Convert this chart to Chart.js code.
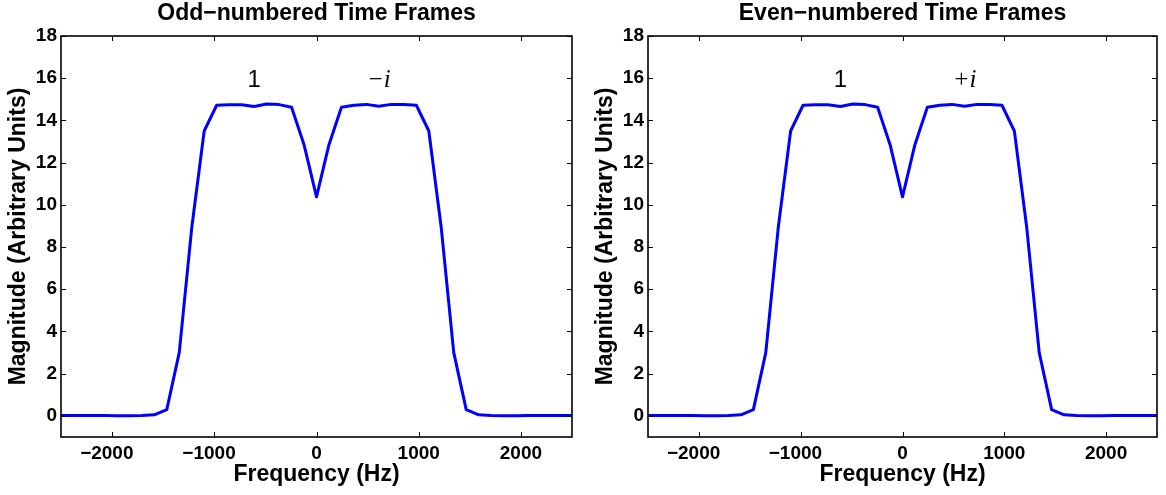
<!DOCTYPE html>
<html><head><meta charset="utf-8">
<script src="https://cdn.jsdelivr.net/npm/chart.js@4.4.0/dist/chart.umd.min.js"></script>
<style>
html,body{margin:0;padding:0;background:#fff;}
#wrap{position:relative;width:1166px;height:495px;background:#fff;}
.c{position:absolute;top:0;width:583px;height:495px;}
</style></head><body>
<div id="wrap">
<div class="c" style="left:0"><canvas id="c1" width="583" height="495"></canvas></div>
<div class="c" style="left:583px"><canvas id="c2" width="583" height="495"></canvas></div>
</div>
<script>
// Frequency bins (Hz)
const frequencies = [-2563,-2441,-2319,-2197,-2075,-1953,-1831,-1709,-1587,-1465,-1343,-1221,-1099,-977,-854,-732,-610,-488,-366,-244,-122,0,122,244,366,488,610,732,854,977,1099,1221,1343,1465,1587,1709,1831,1953,2075,2197,2319,2441,2563];
// Magnitudes (arbitrary units)
const oddMagnitude = [0.02,0.02,0.02,0.02,0.02,0.01,0.01,0.02,0.05,0.30,3.0,8.9,13.5,14.72,14.74,14.74,14.66,14.78,14.75,14.62,12.85,10.38,12.85,14.62,14.72,14.76,14.67,14.76,14.75,14.72,13.5,8.9,3.0,0.30,0.05,0.02,0.01,0.01,0.02,0.02,0.02,0.02,0.02];
const evenMagnitude = [0.02,0.02,0.02,0.02,0.02,0.01,0.01,0.02,0.05,0.30,3.0,8.9,13.5,14.72,14.74,14.74,14.66,14.78,14.75,14.62,12.85,10.38,12.85,14.62,14.72,14.76,14.67,14.76,14.75,14.72,13.5,8.9,3.0,0.30,0.05,0.02,0.01,0.01,0.02,0.02,0.02,0.02,0.02];
const xTicks = [-2000,-1000,0,1000,2000];
const yTicks = [0,2,4,6,8,10,12,14,16,18];
const panelTitles = ["Odd\u2212numbered Time Frames","Even\u2212numbered Time Frames"];
const oddLabels = ["1","\u2212i"];
const evenLabels = ["1","+i"];
const labelFreqs = [-610,610];
const labelMags = [15.9,15.9];

const framePlugin = {
  id:'frame',
  afterDatasetsDraw(chart, args, opts){
    const {ctx, chartArea:a, scales:{x,y}} = chart;
    ctx.save();
    ctx.strokeStyle='#000';
    ctx.lineWidth=1;
    ctx.beginPath();
    xTicks.forEach(v=>{
      const px=Math.round(x.getPixelForValue(v))+0.5;
      ctx.moveTo(px,a.bottom); ctx.lineTo(px,a.bottom-5);
      ctx.moveTo(px,a.top); ctx.lineTo(px,a.top+5);
    });
    yTicks.forEach(v=>{
      const py=Math.round(y.getPixelForValue(v))+0.5;
      ctx.moveTo(a.left,py); ctx.lineTo(a.left+5,py);
      ctx.moveTo(a.right,py); ctx.lineTo(a.right-5,py);
    });
    ctx.stroke();
    ctx.lineWidth=1.6;
    ctx.strokeRect(a.left,a.top,a.right-a.left,a.bottom-a.top);
    ctx.fillStyle='#000';
    ctx.textAlign='center';
    ctx.textBaseline='middle';
    opts.labels.forEach((t,i)=>{
      ctx.font = i===0 ? '24px "Liberation Sans"' : 'italic 25px "Liberation Serif"';
      ctx.fillText(t, x.getPixelForValue(labelFreqs[i]), y.getPixelForValue(labelMags[i]));
    });
    ctx.restore();
  }
};

const fam = '"Liberation Sans", Arial, sans-serif';
const tickFont = {family:fam, weight:'bold', size:19};
const titleFont = {family:fam, weight:'bold', size:23};
const axisFont = {family:fam, weight:'bold', size:23};

// negative labels: minus sign hangs left of the centred digits
const fmtX = v => v < 0 ? '\u2212' + Math.abs(v) + '\u2007' : String(v);

function makeChart(id, mags, title, labels, padLeft, padRight){
  return new Chart(document.getElementById(id), {
    type:'line',
    data:{datasets:[{
      data: frequencies.map((f,i)=>({x:f,y:mags[i]})),
      borderColor:'#0000ff', borderWidth:3, pointRadius:0, tension:0, fill:false,
      borderJoinStyle:'round', borderCapStyle:'round'
    }]},
    options:{
      responsive:false, animation:false, devicePixelRatio:1,
      layout:{padding:{left:padLeft,right:padRight,top:0,bottom:0}},
      plugins:{
        legend:{display:false}, tooltip:{enabled:false},
        title:{display:true,fullSize:false,text:title,color:'#000',font:titleFont,padding:{top:0,bottom:8.4}},
        frame:{labels:labels}
      },
      scales:{
        x:{type:'linear',min:-2500,max:2500,
          afterBuildTicks:s=>{s.ticks=xTicks.map(v=>({value:v}));},
          afterFit:s=>{s.height=58;},
          ticks:{color:'#000',font:tickFont,padding:5,maxRotation:0,autoSkip:false,callback:fmtX},
          grid:{display:false,drawTicks:false},
          border:{display:false},
          title:{display:true,text:'Frequency (Hz)',color:'#000',font:axisFont,padding:{top:0,bottom:7}}
        },
        y:{type:'linear',min:-1,max:18,
          afterBuildTicks:s=>{s.ticks=yTicks.map(v=>({value:v}));},
          afterFit:s=>{s.width=61;},
          ticks:{color:'#000',font:tickFont,padding:4,autoSkip:false},
          grid:{display:false,drawTicks:false},
          border:{display:false},
          title:{display:true,text:'Magnitude (Arbitrary Units)',color:'#000',font:axisFont,padding:{top:5,bottom:0}}
        }
      }
    },
    plugins:[framePlugin]
  });
}
makeChart('c1', oddMagnitude, panelTitles[0], oddLabels, 0, 11);
makeChart('c2', evenMagnitude, panelTitles[1], evenLabels, 4, 9);
</script>
</body></html>
